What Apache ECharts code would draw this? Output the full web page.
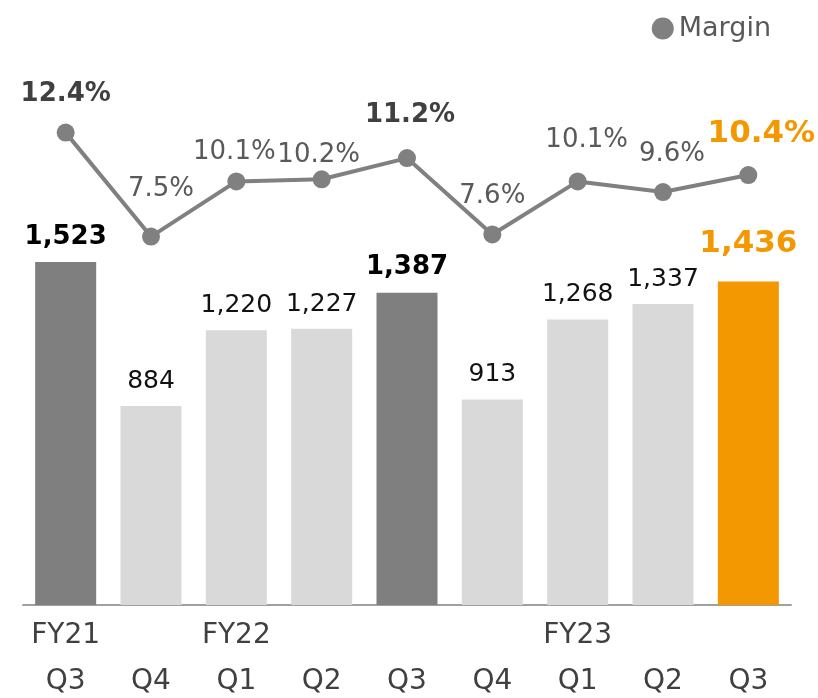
<!DOCTYPE html>
<html>
<head>
<meta charset="utf-8">
<script src="https://cdn.jsdelivr.net/npm/echarts@6/dist/echarts.min.js"></script>
<style>
  html, body { margin: 0; padding: 0; background: #fff; }
  #chart { width: 818px; height: 698px; }
</style>
</head>
<body>
<div id="chart"></div>
<script>
  'use strict'

  /*---- data ----*/
  var fiscalYears = ['FY21', '', 'FY22', '', '', '', 'FY23', '', ''];
  var quarters = ['Q3', 'Q4', 'Q1', 'Q2', 'Q3', 'Q4', 'Q1', 'Q2', 'Q3'];
  var profit = [1523, 884, 1220, 1227, 1387, 913, 1268, 1337, 1436];
  var margin = [12.4, 7.5, 10.1, 10.2, 11.2, 7.6, 10.1, 9.6, 10.4];

  /*---- styling per column (0 normal, 1 same quarter last years, 2 latest) ----*/
  var emphasis = [1, 0, 0, 0, 1, 0, 0, 0, 2];
  var marginLabelShift = [[0, 0], [10, -9], [-2, 9], [-3, 14], [3, -5], [0, 0], [9, -3], [9, 0], [13, -1]];

  var barColors = ['#d9d9d9', '#7f7f7f', '#f39800'];
  var font = '"DejaVu Sans", Verdana, sans-serif';

  var categories = quarters.map(function (q, i) {
    return fiscalYears[i] + '\n' + q;
  });

  var barData = profit.map(function (v, i) {
    var k = emphasis[i];
    var item = { value: v, itemStyle: { color: barColors[k] } };
    if (k === 1) {
      item.label = { fontWeight: 'bold', fontSize: 26, color: '#000' };
    } else if (k === 2) {
      item.label = { fontWeight: 'bold', fontSize: 31, color: '#f39800', distance: 22 };
    }
    return item;
  });

  var lineData = margin.map(function (v, i) {
    var k = emphasis[i];
    var item = { value: v, label: { offset: marginLabelShift[i] } };
    if (k === 1) {
      item.label.fontWeight = 'bold';
      item.label.fontSize = 26;
      item.label.color = '#404040';
    } else if (k === 2) {
      item.label.fontWeight = 'bold';
      item.label.fontSize = 31;
      item.label.color = '#f39800';
    }
    return item;
  });

  var chart = echarts.init(document.getElementById('chart'));
  chart.setOption({
    animation: false,
    textStyle: { fontFamily: font },
    grid: { left: 23, right: 27, top: 42, bottom: 93, outerBoundsMode: 'none', containLabel: false },
    legend: {
      data: ['Margin'],
      right: 42,
      top: 10,
      icon: 'circle',
      itemWidth: 22,
      itemHeight: 22,
      textStyle: { fontSize: 27, color: '#595959', fontFamily: font }
    },
    xAxis: {
      type: 'category',
      data: categories,
      axisLine: { lineStyle: { color: '#a0a0a0', width: 2 } },
      axisTick: { show: false },
      axisLabel: {
        fontSize: 28,
        lineHeight: 46,
        color: '#404040',
        margin: 8,
        interval: 0
      }
    },
    yAxis: [
      { type: 'value', min: 0, max: 2500, show: false, splitLine: { show: false } },
      { type: 'value', min: -9.86, max: 16.67, show: false, splitLine: { show: false } }
    ],
    series: [
      {
        name: 'Profit',
        type: 'bar',
        data: barData,
        barCategoryGap: '28.5%',
        label: {
          show: true,
          position: 'top',
          distance: 12,
          fontSize: 25,
          color: '#111',
          formatter: function (p) {
            return p.value.toLocaleString('en-US');
          }
        }
      },
      {
        name: 'Margin',
        type: 'line',
        yAxisIndex: 1,
        data: lineData,
        symbol: 'circle',
        symbolSize: 18,
        z: 5,
        lineStyle: { color: '#808080', width: 4 },
        itemStyle: { color: '#808080' },
        label: {
          show: true,
          position: 'top',
          distance: 16,
          fontSize: 26,
          color: '#595959',
          formatter: function (p) {
            return p.value.toFixed(1) + '%';
          }
        }
      }
    ]
  });
</script>
</body>
</html>
